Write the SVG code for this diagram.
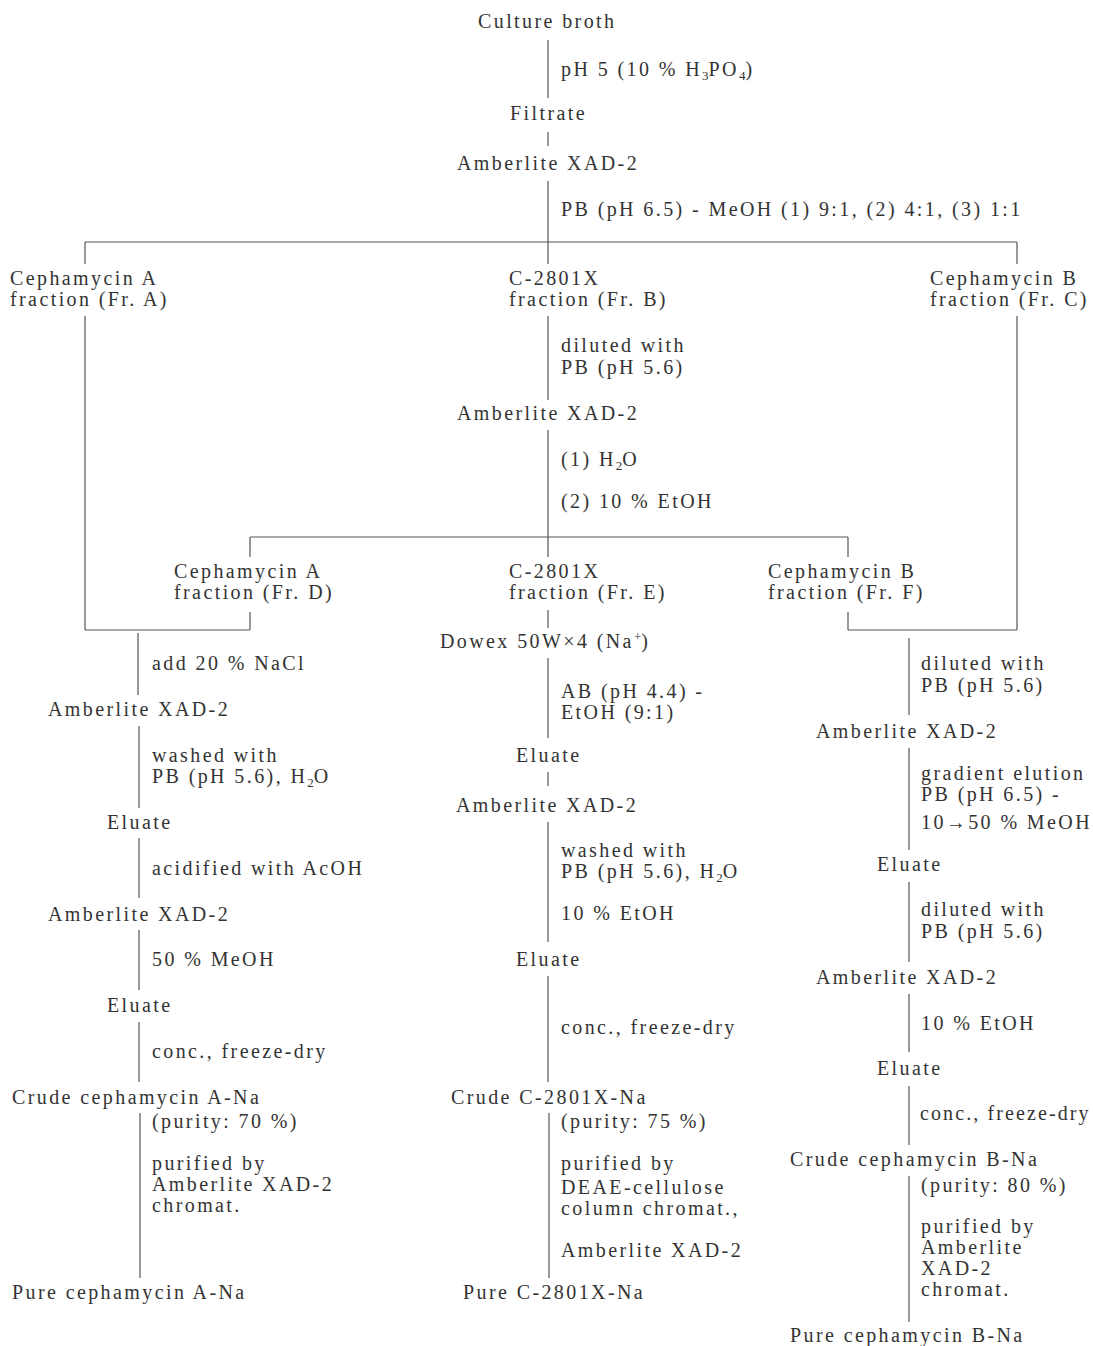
<svg xmlns="http://www.w3.org/2000/svg" width="1093" height="1346" viewBox="0 0 1093 1346">
<style>
text{font-family:"Liberation Serif","Times New Roman",serif;font-size:20px;fill:#333;letter-spacing:2.4px}
.sub{font-size:13px;letter-spacing:0}
line{stroke:#555;stroke-width:1.2;fill:none}
</style>
<rect width="1093" height="1346" fill="#fff"/>
<g id="connectors">
<line x1="548" y1="40" x2="548" y2="98"/>
<line x1="548" y1="132" x2="548" y2="146"/>
<line x1="548" y1="181" x2="548" y2="242"/>
<line x1="85" y1="242" x2="1017" y2="242"/>
<line x1="85" y1="242" x2="85" y2="264"/>
<line x1="548" y1="242" x2="548" y2="264"/>
<line x1="1017" y1="242" x2="1017" y2="264"/>
<line x1="85" y1="316" x2="85" y2="630"/>
<line x1="85" y1="630" x2="250" y2="630"/>
<line x1="250" y1="612" x2="250" y2="630"/>
<line x1="548" y1="316" x2="548" y2="400"/>
<line x1="548" y1="430" x2="548" y2="537"/>
<line x1="250" y1="537" x2="848" y2="537"/>
<line x1="250" y1="537" x2="250" y2="557"/>
<line x1="548" y1="537" x2="548" y2="557"/>
<line x1="848" y1="537" x2="848" y2="557"/>
<line x1="548" y1="610" x2="548" y2="628"/>
<line x1="848" y1="612" x2="848" y2="630"/>
<line x1="848" y1="630" x2="1017" y2="630"/>
<line x1="1017" y1="316" x2="1017" y2="630"/>
<line x1="138" y1="633" x2="138" y2="695"/>
<line x1="139" y1="726" x2="139" y2="808"/>
<line x1="139" y1="838" x2="139" y2="898"/>
<line x1="139" y1="930" x2="139" y2="990"/>
<line x1="139" y1="1022" x2="139" y2="1082"/>
<line x1="140" y1="1113" x2="140" y2="1278"/>
<line x1="548" y1="658" x2="548" y2="738"/>
<line x1="548" y1="772" x2="548" y2="786"/>
<line x1="548" y1="822" x2="548" y2="942"/>
<line x1="548" y1="976" x2="548" y2="1082"/>
<line x1="549" y1="1113" x2="549" y2="1278"/>
<line x1="909" y1="638" x2="909" y2="715"/>
<line x1="909" y1="748" x2="909" y2="850"/>
<line x1="909" y1="882" x2="909" y2="962"/>
<line x1="909" y1="994" x2="909" y2="1052"/>
<line x1="909" y1="1086" x2="909" y2="1145"/>
<line x1="909" y1="1176" x2="909" y2="1322"/>
</g>
<g id="labels">
<text x="561" y="76">pH 5 (10 % H<tspan class="sub" dy="4">3</tspan><tspan dy="-4">PO</tspan><tspan class="sub" dy="4">4</tspan><tspan dy="-4">)</tspan></text>
<text x="561" y="216">PB (pH 6.5) - MeOH (1) 9:1, (2) 4:1, (3) 1:1</text>
<text x="561" y="352">diluted with</text>
<text x="561" y="374">PB (pH 5.6)</text>
<text x="561" y="466">(1) H<tspan class="sub" dy="4">2</tspan><tspan dy="-4">O</tspan></text>
<text x="561" y="508">(2) 10 % EtOH</text>
<text x="152" y="670">add 20 % NaCl</text>
<text x="152" y="762">washed with</text>
<text x="152" y="783">PB (pH 5.6), H<tspan class="sub" dy="4">2</tspan><tspan dy="-4">O</tspan></text>
<text x="152" y="875">acidified with AcOH</text>
<text x="152" y="966">50 % MeOH</text>
<text x="152" y="1058">conc., freeze-dry</text>
<text x="152" y="1128">(purity: 70 %)</text>
<text x="152" y="1170">purified by</text>
<text x="152" y="1191">Amberlite XAD-2</text>
<text x="152" y="1212">chromat.</text>
<text x="561" y="698">AB (pH 4.4) -</text>
<text x="561" y="719">EtOH (9:1)</text>
<text x="561" y="857">washed with</text>
<text x="561" y="878">PB (pH 5.6), H<tspan class="sub" dy="4">2</tspan><tspan dy="-4">O</tspan></text>
<text x="561" y="920">10 % EtOH</text>
<text x="561" y="1034">conc., freeze-dry</text>
<text x="561" y="1128">(purity: 75 %)</text>
<text x="561" y="1170">purified by</text>
<text x="561" y="1194">DEAE-cellulose</text>
<text x="561" y="1215">column chromat.,</text>
<text x="561" y="1257">Amberlite XAD-2</text>
<text x="921" y="670">diluted with</text>
<text x="921" y="692">PB (pH 5.6)</text>
<text x="921" y="780">gradient elution</text>
<text x="921" y="801">PB (pH 6.5) -</text>
<text x="921" y="829">10→50 % MeOH</text>
<text x="921" y="916">diluted with</text>
<text x="921" y="938">PB (pH 5.6)</text>
<text x="921" y="1030">10 % EtOH</text>
<text x="920" y="1120" style="letter-spacing:2.1px">conc., freeze-dry</text>
<text x="921" y="1192">(purity: 80 %)</text>
<text x="921" y="1233">purified by</text>
<text x="921" y="1254">Amberlite</text>
<text x="921" y="1275">XAD-2</text>
<text x="921" y="1296">chromat.</text>
</g>
<g id="culture"><text x="478" y="28">Culture broth</text></g>
<g id="filtrate"><text x="510" y="120">Filtrate</text></g>
<g id="xad1"><text x="457" y="170">Amberlite XAD-2</text></g>
<g id="frA"><text x="10" y="285">Cephamycin A</text><text x="10" y="306">fraction (Fr. A)</text></g>
<g id="frB"><text x="509" y="285">C-2801X</text><text x="509" y="306">fraction (Fr. B)</text></g>
<g id="frC"><text x="930" y="285">Cephamycin B</text><text x="930" y="306">fraction (Fr. C)</text></g>
<g id="xadB"><text x="457" y="420">Amberlite XAD-2</text></g>
<g id="frD"><text x="174" y="578">Cephamycin A</text><text x="174" y="599">fraction (Fr. D)</text></g>
<g id="frE"><text x="509" y="578">C-2801X</text><text x="509" y="599">fraction (Fr. E)</text></g>
<g id="frF"><text x="768" y="578">Cephamycin B</text><text x="768" y="599">fraction (Fr. F)</text></g>
<g id="dowex"><text x="440" y="648">Dowex 50W×4 (Na<tspan class="sub" dy="-7">+</tspan><tspan dy="7">)</tspan></text></g>
<g id="a_xad1"><text x="48" y="716">Amberlite XAD-2</text></g>
<g id="a_el1"><text x="107" y="829">Eluate</text></g>
<g id="a_xad2"><text x="48" y="921">Amberlite XAD-2</text></g>
<g id="a_el2"><text x="107" y="1012">Eluate</text></g>
<g id="a_crude"><text x="12" y="1104">Crude cephamycin A-Na</text></g>
<g id="a_pure"><text x="12" y="1299">Pure cephamycin A-Na</text></g>
<g id="e_el1"><text x="516" y="762">Eluate</text></g>
<g id="e_xad"><text x="456" y="812">Amberlite XAD-2</text></g>
<g id="e_el2"><text x="516" y="966">Eluate</text></g>
<g id="e_crude"><text x="451" y="1104">Crude C-2801X-Na</text></g>
<g id="e_pure"><text x="463" y="1299">Pure C-2801X-Na</text></g>
<g id="b_xad1"><text x="816" y="738">Amberlite XAD-2</text></g>
<g id="b_el1"><text x="877" y="871">Eluate</text></g>
<g id="b_xad2"><text x="816" y="984">Amberlite XAD-2</text></g>
<g id="b_el2"><text x="877" y="1075">Eluate</text></g>
<g id="b_crude"><text x="790" y="1166">Crude cephamycin B-Na</text></g>
<g id="b_pure"><text x="790" y="1342">Pure cephamycin B-Na</text></g>
</svg>
